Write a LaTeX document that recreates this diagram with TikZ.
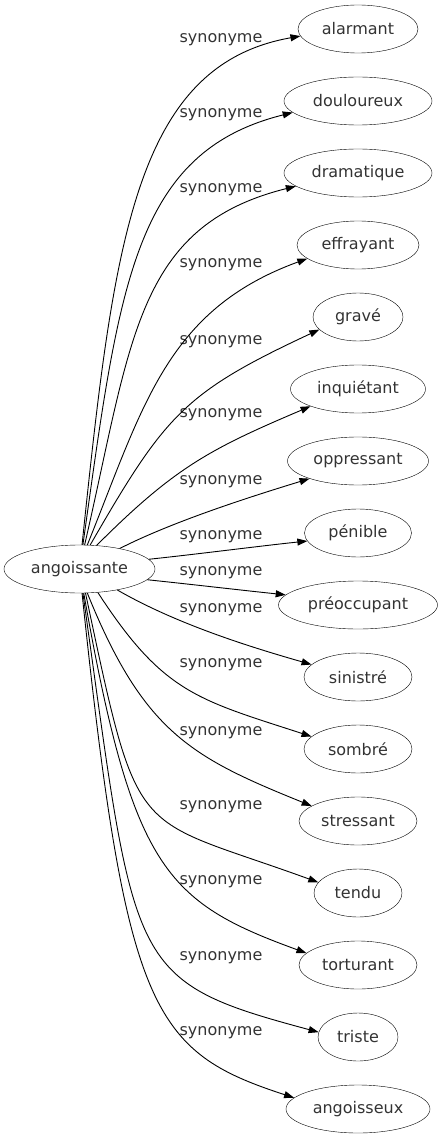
\documentclass[tikz,border=0pt]{standalone}
\usepackage{fontspec}
\setmainfont{DejaVu Sans}
\usetikzlibrary{shapes.geometric, arrows.meta}

\begin{document}
\begin{tikzpicture}[x=1pt, y=1pt,
    word/.style={draw, ellipse, inner sep=0pt, minimum height=48pt, text=black!80, font=\fontsize{16}{19}\selectfont},
    syn/.style={inner sep=0pt, text=black!80, font=\fontsize{16}{19}\selectfont},
    edge/.style={line width=0.9pt, -{Triangle[length=10pt, width=7pt]}}]
  \useasboundingbox (0,0) rectangle (442,-1139);

  % центральное слово
  \node[word, minimum width=151pt] (c) at (79.5,-569) {angoissante};

  % синонимы справа
  \foreach \w/\d [count=\i from 0] in {alarmant/120, douloureux/148, dramatique/148, effrayant/122,
      gravé/90, inquiétant/135, oppressant/141, pénible/107, préoccupant/159, sinistré/108,
      sombré/108, stressant/118, tendu/88, torturant/118, triste/80, angoisseux/144}
    \node[word, minimum width=\d pt] (t\i) at (358,{-29-72*\i}) {\w};

  % подписи рёбер
  \foreach \y [count=\i from 0] in {40,115,190,265,342,415,482,537,573,610,665,733,807,882,958,1033}
    \node[syn] (l\i) at (221,-\y) {synonyme};

  % рёбра: якорь начала, выход, якорь конца, вход
  \foreach \i/\a/\o/\od/\b/\n/\nd in {0/84/84/300/187/190/170, 1/82/82/260/190/194/165,
      2/78/77/210/192/194/165, 3/72/68/150/195/200/150, 4/66/60/150/198/205/150,
      5/54/45/110/200/203/110, 6/27/27/60/200/197/60, 7/8/6/50/189/186/50,
      8/351/-6/50/172/174/50, 9/331/-30/70/165/164/60, 10/308/-57/120/165/162/120,
      11/288/-68/150/162/158/130, 12/284/-78/260/165/160/200, 13/280/-80/280/167/160/150,
      14/278/-82/380/173/165/200, 15/276/-84/420/170/162/150}
    \draw[edge] (c.\a) .. controls +(\o:\od) and +(\n:\nd) .. (t\i.\b);
\end{tikzpicture}
\end{document}
